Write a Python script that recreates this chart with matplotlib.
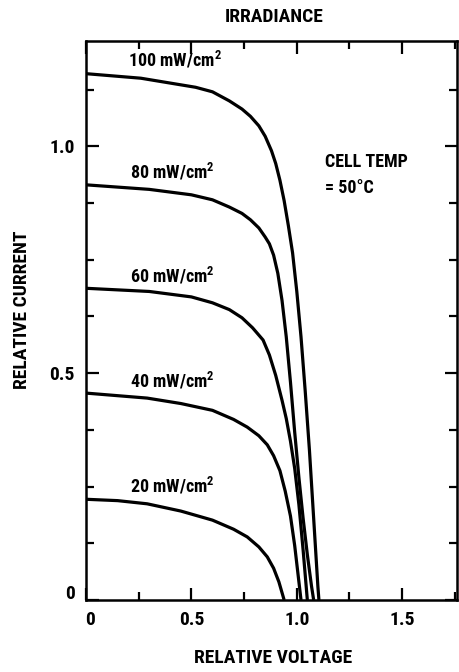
import matplotlib
matplotlib.use("Agg")
import matplotlib.pyplot as plt
import matplotlib.transforms as mtransforms
from matplotlib import font_manager as fm
from matplotlib.ticker import MultipleLocator, FixedLocator

# ---- data ----
irradiance_labels = ["100 mW/cm$^{2}$", "80 mW/cm$^{2}$", "60 mW/cm$^{2}$",
                     "40 mW/cm$^{2}$", "20 mW/cm$^{2}$"]

v_100 = [0, 0.26, 0.52, 0.60, 0.68, 0.74, 0.78, 0.82, 0.85, 0.88, 0.90, 0.92, 0.94, 0.96, 0.98,
         1.00, 1.02, 1.04, 1.06, 1.08, 1.10, 1.105]
i_100 = [1.16, 1.15, 1.13, 1.12, 1.10, 1.082, 1.066, 1.045, 1.022, 0.99, 0.962, 0.925, 0.88, 0.825, 0.765,
         0.68, 0.58, 0.46, 0.33, 0.18, 0.03, 0.0]

v_80 = [0, 0.30, 0.50, 0.60, 0.68, 0.74, 0.78, 0.82, 0.85, 0.87, 0.89, 0.91, 0.93,
        0.95, 0.97, 0.99, 1.01, 1.03, 1.05, 1.07, 1.08]
i_80 = [0.915, 0.905, 0.893, 0.882, 0.866, 0.852, 0.838, 0.82, 0.80, 0.785, 0.76, 0.72, 0.66,
        0.58, 0.48, 0.37, 0.27, 0.18, 0.10, 0.03, 0.0]

v_60 = [0, 0.30, 0.50, 0.60, 0.68, 0.74, 0.79, 0.84, 0.87, 0.90, 0.93, 0.95, 0.97,
        0.99, 1.01, 1.03, 1.05]
i_60 = [0.687, 0.68, 0.668, 0.655, 0.64, 0.622, 0.60, 0.573, 0.54, 0.495, 0.44, 0.40, 0.35,
        0.29, 0.21, 0.11, 0.0]

v_40 = [0, 0.29, 0.45, 0.60, 0.70, 0.765, 0.82, 0.86, 0.89, 0.92, 0.945, 0.97, 0.99,
        1.005, 1.02]
i_40 = [0.456, 0.445, 0.433, 0.418, 0.398, 0.381, 0.362, 0.342, 0.318, 0.285, 0.24, 0.185, 0.12,
        0.06, 0.0]

v_20 = [0, 0.15, 0.29, 0.45, 0.60, 0.70, 0.765, 0.82, 0.86, 0.89, 0.915, 0.94]
i_20 = [0.222, 0.219, 0.212, 0.196, 0.176, 0.156, 0.139, 0.117, 0.095, 0.07, 0.04, 0.0]

label_pos_v = [0.20, 0.21, 0.21, 0.21, 0.21]
label_pos_i = [1.175, 0.93, 0.70, 0.468, 0.236]

x_ticks = [0, 0.5, 1.0, 1.5]
x_ticklabels = ["0", "0.5", "1.0", "1.5"]
y_ticks = [0, 0.5, 1.0]
y_ticklabels = ["0", "0.5", "1.0"]

# ---- font ----
names = {f.name for f in fm.fontManager.ttflist}
family = "DejaVu Sans"
for cand in ["Liberation Sans Narrow", "DejaVu Sans Condensed", "Roboto Condensed", "Open Sans Condensed"]:
    if cand in names:
        family = cand
        break
plt.rcParams["font.family"] = [family, "DejaVu Sans"]
plt.rcParams["font.weight"] = "bold"
plt.rcParams["mathtext.fontset"] = "custom"
plt.rcParams["mathtext.rm"] = family + ":bold"
plt.rcParams["mathtext.it"] = family + ":bold"
plt.rcParams["mathtext.bf"] = family + ":bold"

fig = plt.figure(figsize=(4.6, 6.72), dpi=100)
ax = fig.add_axes([86/460, 1 - 600/672, (457 - 86)/460, (600 - 41)/672])

curves = [(v_100, i_100), (v_80, i_80), (v_60, i_60), (v_40, i_40), (v_20, i_20)]
for (v, i) in curves:
    ax.plot(v, i, color="black", lw=2.3, solid_joinstyle="round", solid_capstyle="butt")

for lab, lv, li in zip(irradiance_labels, label_pos_v, label_pos_i):
    ax.text(lv, li, lab, fontsize=13, fontweight="bold", ha="left", va="baseline")

ax.text(1.135, 0.954, "CELL TEMP", fontsize=13, fontweight="bold", ha="left", va="baseline")
ax.text(1.135, 0.896, "= 50\u00b0C", fontsize=13, fontweight="bold", ha="left", va="baseline")

ax.set_xlim(0, 1.76)
ax.set_ylim(0, 1.232)

ax.xaxis.set_major_locator(FixedLocator(x_ticks))
ax.set_xticklabels(x_ticklabels)
ax.yaxis.set_major_locator(FixedLocator(y_ticks))
ax.set_yticklabels(y_ticklabels)
ax.xaxis.set_minor_locator(MultipleLocator(0.25))
ax.yaxis.set_minor_locator(MultipleLocator(0.125))
ax.tick_params(which="both", direction="in", top=True, right=True, width=1.6, color="black")
ax.tick_params(which="major", length=9, labelsize=14, pad=8)
ax.tick_params(which="minor", length=6)
for lbl in ax.get_xticklabels() + ax.get_yticklabels():
    lbl.set_fontweight("bold")
# nudge the two "0" labels away from the corner, as in the reference
ylab0 = ax.get_yticklabels()[0]
ylab0.set_transform(ylab0.get_transform() + mtransforms.ScaledTranslation(0, 8/100, fig.dpi_scale_trans))
xlab0 = ax.get_xticklabels()[0]
xlab0.set_transform(xlab0.get_transform() + mtransforms.ScaledTranslation(4/100, 0, fig.dpi_scale_trans))
for s in ax.spines.values():
    s.set_linewidth(1.8)

fig.text(274/460, 1 - 17/672, "IRRADIANCE", fontsize=14, fontweight="bold", ha="center", va="center")
fig.text(273/460, 1 - 658/672, "RELATIVE VOLTAGE", fontsize=14, fontweight="bold", ha="center", va="center")
fig.text(22/460, 1 - 310/672, "RELATIVE CURRENT", fontsize=14, fontweight="bold", ha="center", va="center", rotation=90)

fig.savefig("out.png", dpi=100)
